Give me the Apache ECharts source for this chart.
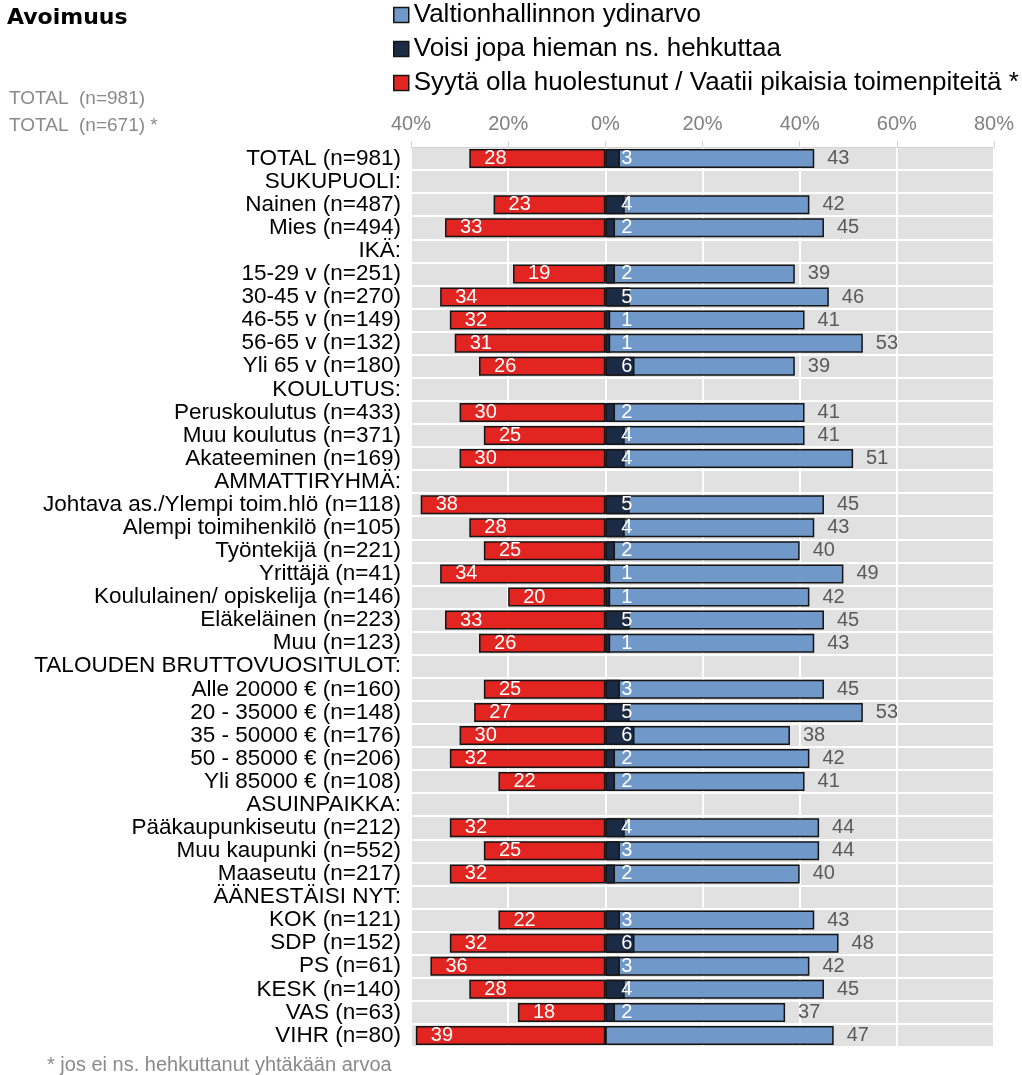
<!DOCTYPE html>
<html>
<head>
<meta charset="utf-8">
<script src="https://cdn.jsdelivr.net/npm/echarts@6/dist/echarts.min.js"></script>
<style>
  html, body { margin: 0; padding: 0; background: #ffffff; }
  #chart { width: 1022px; height: 1075px; }
</style>
</head>
<body>
<div id="chart"></div>
<script>
// Row labels, top to bottom (group headers carry no values)
const categories = [
  'TOTAL (n=981)',
  'SUKUPUOLI:',
  'Nainen (n=487)',
  'Mies (n=494)',
  'IKÄ:',
  '15-29 v (n=251)',
  '30-45 v (n=270)',
  '46-55 v (n=149)',
  '56-65 v (n=132)',
  'Yli 65 v (n=180)',
  'KOULUTUS:',
  'Peruskoulutus (n=433)',
  'Muu koulutus (n=371)',
  'Akateeminen (n=169)',
  'AMMATTIRYHMÄ:',
  'Johtava as./Ylempi toim.hlö (n=118)',
  'Alempi toimihenkilö (n=105)',
  'Työntekijä (n=221)',
  'Yrittäjä (n=41)',
  'Koululainen/ opiskelija (n=146)',
  'Eläkeläinen (n=223)',
  'Muu (n=123)',
  'TALOUDEN BRUTTOVUOSITULOT:',
  'Alle 20000 € (n=160)',
  '20 - 35000 € (n=148)',
  '35 - 50000 € (n=176)',
  '50 - 85000 € (n=206)',
  'Yli 85000 € (n=108)',
  'ASUINPAIKKA:',
  'Pääkaupunkiseutu (n=212)',
  'Muu kaupunki (n=552)',
  'Maaseutu (n=217)',
  'ÄÄNESTÄISI NYT:',
  'KOK (n=121)',
  'SDP (n=152)',
  'PS (n=61)',
  'KESK (n=140)',
  'VAS (n=63)',
  'VIHR (n=80)'
];

// "Valtionhallinnon ydinarvo" (%)
const coreValue = [
  43, null, 42, 45, null, 39, 46, 41, 53, 39, null, 41, 41, 51, null,
  45, 43, 40, 49, 42, 45, 43, null, 45, 53, 38, 42, 41, null, 44, 44, 40,
  null, 43, 48, 42, 45, 37, 47
];

// "Voisi jopa hieman ns. hehkuttaa" (%)
const enthusiasm = [
  3, null, 4, 2, null, 2, 5, 1, 1, 6, null, 2, 4, 4, null,
  5, 4, 2, 1, 1, 5, 1, null, 3, 5, 6, 2, 2, null, 4, 3, 2,
  null, 3, 6, 3, 4, 2, 0
];

// "Syytä olla huolestunut / Vaatii pikaisia toimenpiteitä *" (%), drawn leftwards
const concern = [
  28, null, 23, 33, null, 19, 34, 32, 31, 26, null, 30, 25, 30, null,
  38, 28, 25, 34, 20, 33, 26, null, 25, 27, 30, 32, 22, null, 32, 25, 32,
  null, 22, 32, 36, 28, 18, 39
];

// Axis range and tick step (percent)
const axisMin = -40;
const axisMax = 80;
const axisStep = 20;

const seriesNames = [
  'Valtionhallinnon ydinarvo',
  'Voisi jopa hieman ns. hehkuttaa',
  'Syytä olla huolestunut / Vaatii pikaisia toimenpiteitä *'
];

const FONT = '"Liberation Sans", Arial, sans-serif';
const BAR_W = 19;
const EDGE = { borderColor: '#141414', borderWidth: 1.5 };

const chart = echarts.init(document.getElementById('chart'), null, { renderer: 'canvas' });

chart.setOption({
  animation: false,
  backgroundColor: '#ffffff',
  textStyle: { fontFamily: FONT },
  title: {
    text: 'Avoimuus',
    left: 7,
    top: 7,
    padding: 0,
    textStyle: { fontFamily: '"DejaVu Sans", sans-serif', fontWeight: 'bold', fontSize: 22, color: '#000000' }
  },
  legend: {
    orient: 'vertical',
    left: 393,
    top: 2,
    padding: 0,
    itemGap: 8,
    itemWidth: 15,
    itemHeight: 15,
    icon: 'rect',
    data: seriesNames,
    itemStyle: { borderColor: '#141414', borderWidth: 1.5 },
    textStyle: { fontFamily: FONT, fontSize: 26, lineHeight: 25, color: '#000000', padding: [0, 0, 0, 0] }
  },
  graphic: [
    { type: 'text', left: 9, top: 89, style: { text: 'TOTAL  (n=981)', font: '19px ' + FONT, fill: '#8a8a8a' } },
    { type: 'text', left: 9, top: 116, style: { text: 'TOTAL  (n=671) *', font: '19px ' + FONT, fill: '#8a8a8a' } },
    { type: 'text', left: 47, top: 1055, style: { text: '* jos ei ns. hehkuttanut yhtäkään arvoa', font: '20px ' + FONT, fill: '#8a8a8a' } }
  ],
  grid: {
    left: 411,
    right: 28,
    top: 147,
    bottom: 28,
    show: true,
    backgroundColor: '#e1e1e1',
    borderWidth: 0
  },
  xAxis: {
    type: 'value',
    position: 'top',
    min: axisMin,
    max: axisMax,
    interval: axisStep,
    axisLine: { show: true, lineStyle: { color: '#d4d4d4', width: 1 } },
    axisTick: { show: true, length: 6, lineStyle: { color: '#d4d4d4', width: 1 } },
    axisLabel: {
      margin: 13,
      fontSize: 20,
      color: '#808080',
      fontFamily: FONT,
      formatter: v => Math.abs(v) + '%'
    },
    splitLine: { show: true, lineStyle: { color: '#ffffff', width: 2 } }
  },
  yAxis: {
    type: 'category',
    inverse: true,
    data: categories,
    axisLine: { show: false },
    axisTick: { show: false, interval: 0 },
    axisLabel: { interval: 0, margin: 10, fontSize: 22.5, color: '#000000', fontFamily: FONT },
    splitLine: { show: true, interval: 0, lineStyle: { color: '#ffffff', width: 2 } }
  },
  series: [
    {
      name: seriesNames[0],
      type: 'bar',
      barWidth: BAR_W,
      barGap: '-100%',
      data: coreValue,
      itemStyle: Object.assign({ color: '#7099c9' }, EDGE),
      label: {
        show: true,
        position: 'right',
        distance: 13,
        fontSize: 20,
        color: '#5a5a5a',
        fontFamily: FONT
      }
    },
    {
      name: seriesNames[1],
      type: 'bar',
      barWidth: BAR_W,
      barGap: '-100%',
      data: enthusiasm,
      itemStyle: Object.assign({ color: '#1b2a45' }, EDGE),
      label: {
        show: true,
        position: 'insideLeft',
        distance: 16,
        fontSize: 20,
        color: '#ffffff',
        fontFamily: FONT,
        formatter: p => (p.value > 0 ? String(p.value) : '')
      }
    },
    {
      name: seriesNames[2],
      type: 'bar',
      barWidth: BAR_W,
      barGap: '-100%',
      data: concern.map(v => (v == null ? null : -v)),
      itemStyle: Object.assign({ color: '#e32522' }, EDGE),
      label: {
        show: true,
        position: 'insideLeft',
        distance: 15,
        fontSize: 20,
        color: '#ffffff',
        fontFamily: FONT,
        formatter: p => String(Math.abs(p.value))
      }
    }
  ]
});
</script>
</body>
</html>
